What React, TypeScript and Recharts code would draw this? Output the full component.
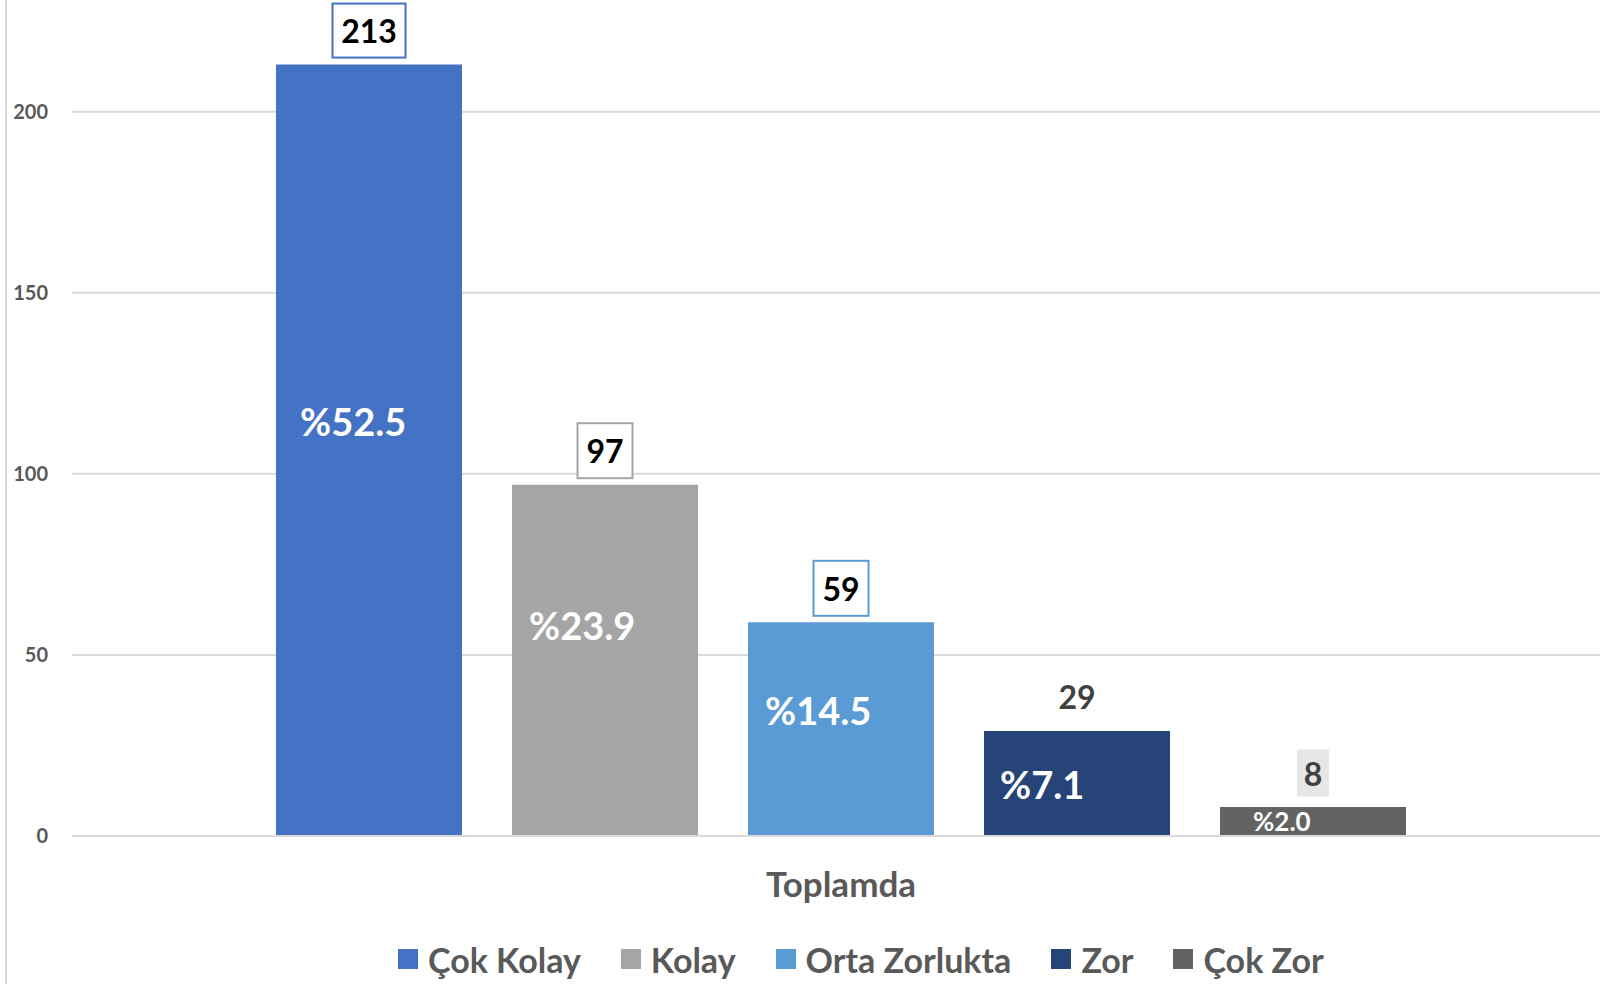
import { BarChart, Bar, XAxis, YAxis, CartesianGrid, Legend, LabelList } from 'recharts';

const categories = ['Toplamda'];
const seriesNames = ['Çok Kolay', 'Kolay', 'Orta Zorlukta', 'Zor', 'Çok Zor'];
const seriesValues = [213, 97, 59, 29, 8];
const seriesPercents = ['%52.5', '%23.9', '%14.5', '%7.1', '%2.0'];
const yTicks = [0, 50, 100, 150, 200];
const yMax = 230;

const COLORS = ['#4472C4', '#A5A5A5', '#5B9BD5', '#264478', '#636363'];

// boxes drawn around the value labels above each bar
const VALUE_BOX = [
  { stroke: '#4472C4', fill: '#ffffff', color: '#000000', w: 73, h: 54 },
  { stroke: '#A5A5A5', fill: '#ffffff', color: '#000000', w: 55, h: 55 },
  { stroke: '#5B9BD5', fill: '#ffffff', color: '#000000', w: 55, h: 55 },
  { stroke: 'none', fill: 'none', color: '#404040', w: 0, h: 0 },
  { stroke: 'none', fill: '#E7E6E6', color: '#404040', w: 32, h: 47 },
];

// percent labels were placed by hand in the original, keep the same offsets
const PCT_POS = [
  { dx: 24, dy: -29, size: 38 },
  { dx: 17, dy: -35, size: 38 },
  { dx: 17, dy: -19, size: 38 },
  { dx: 16, dy: 1, size: 38 },
  { dx: 33, dy: -1, size: 26 },
];

const FONT = 'Lato, "Open Sans", "DejaVu Sans", sans-serif';

const data = categories.map((name) => {
  const row: Record<string, string | number> = { name };
  seriesValues.forEach((v, i) => {
    row[`s${i}`] = v;
  });
  return row;
});

function valueLabel(i: number) {
  return (props: any) => {
    const { x, y, width, value } = props;
    const cx = Number(x) + Number(width) / 2;
    const cy = Number(y) - 34;
    const box = VALUE_BOX[i];
    return (
      <g>
        {box.w > 0 && (
          <rect
            x={cx - box.w / 2}
            y={cy - box.h / 2}
            width={box.w}
            height={box.h}
            fill={box.fill}
            stroke={box.stroke}
            strokeWidth={2}
          />
        )}
        <text
          x={cx}
          y={cy}
          textAnchor="middle"
          dominantBaseline="central"
          fill={box.color}
          fontSize={32}
          fontWeight={700}
        >
          {value}
        </text>
      </g>
    );
  };
}

function pctLabel(i: number) {
  return (props: any) => {
    const { x, y, height } = props;
    const pos = PCT_POS[i];
    return (
      <text
        x={Number(x) + pos.dx}
        y={Number(y) + Number(height) / 2 + pos.dy}
        textAnchor="start"
        dominantBaseline="central"
        fill="#ffffff"
        fontSize={pos.size}
        fontWeight={700}
      >
        {seriesPercents[i]}
      </text>
    );
  };
}

function CategoryTick(props: any) {
  const { x, y, payload } = props;
  return (
    <text
      x={x}
      y={y}
      dy={47}
      textAnchor="middle"
      dominantBaseline="central"
      fill="#595959"
      fontSize={35}
      fontWeight={700}
    >
      {payload.value}
    </text>
  );
}

function LegendContent() {
  return (
    <div
      style={{
        height: 68,
        boxSizing: 'border-box',
        paddingTop: 18,
        paddingLeft: 398,
        display: 'flex',
        alignItems: 'center',
        fontFamily: FONT,
        fontWeight: 700,
        fontSize: 34,
        color: '#595959',
        whiteSpace: 'nowrap',
      }}
    >
      {seriesNames.map((name, i) => (
        <div key={name} style={{ display: 'flex', alignItems: 'center', marginRight: 40 }}>
          <span style={{ width: 20, height: 20, background: COLORS[i], marginRight: 10, display: 'inline-block' }} />
          <span>{name}</span>
        </div>
      ))}
    </div>
  );
}

// grid lines only at the tick values (no line along the top edge)
function gridRows({ offset }: any) {
  return yTicks.map((t) => offset.top + offset.height * (1 - t / yMax));
}

export default function App() {
  return (
    <div
      style={{
        position: 'absolute',
        left: 0,
        top: 0,
        width: 1600,
        height: 984,
        background: '#ffffff',
        fontFamily: FONT,
        overflow: 'hidden',
      }}
    >
      <div style={{ position: 'absolute', left: 5, top: 0, width: 2, height: 984, background: '#D9D9D9' }} />
      <BarChart
        width={1600}
        height={984}
        data={data}
        margin={{ top: 3, right: -10, left: 0, bottom: 0 }}
        barSize={186}
        barGap={50}
      >
        <CartesianGrid vertical={false} stroke="#D9D9D9" strokeWidth={2} horizontalCoordinatesGenerator={gridRows} />
        <XAxis
          dataKey="name"
          height={80}
          tickLine={false}
          tickSize={0}
          tickMargin={0}
          axisLine={{ stroke: '#D9D9D9', strokeWidth: 2 }}
          tick={<CategoryTick />}
        />
        <YAxis
          width={72}
          domain={[0, yMax]}
          ticks={yTicks}
          axisLine={false}
          tickLine={false}
          tickSize={0}
          tickMargin={24}
          tick={{ fill: '#595959', fontSize: 20, fontWeight: 700 }}
        />
        <Legend verticalAlign="bottom" align="left" content={<LegendContent />} />
        {seriesNames.map((name, i) => (
          <Bar key={name} dataKey={`s${i}`} name={name} fill={COLORS[i]} isAnimationActive={false}>
            <LabelList dataKey={`s${i}`} content={valueLabel(i)} />
            <LabelList dataKey={`s${i}`} content={pctLabel(i)} />
          </Bar>
        ))}
      </BarChart>
    </div>
  );
}
